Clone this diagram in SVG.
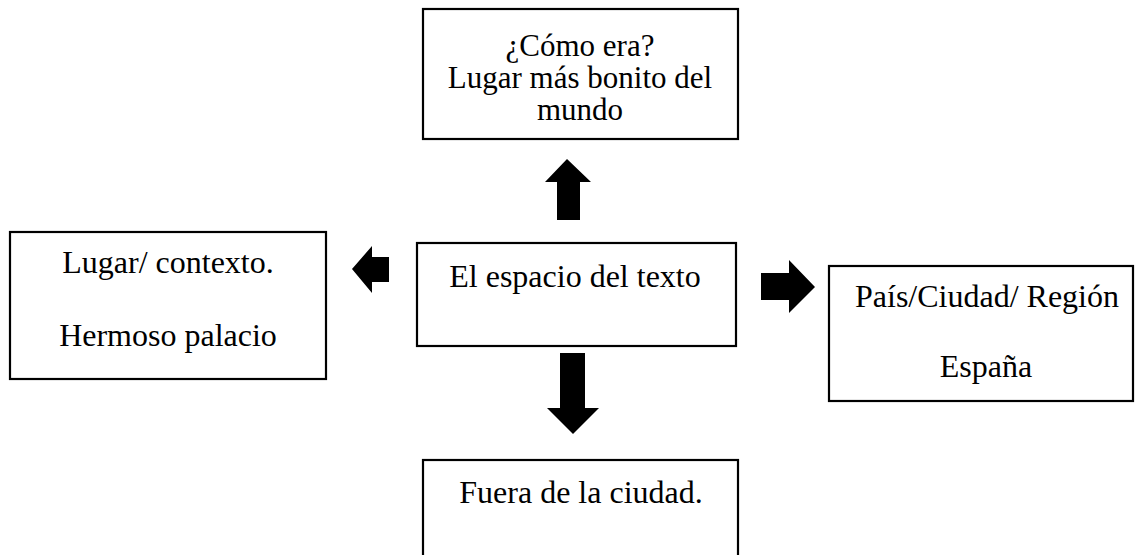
<svg xmlns="http://www.w3.org/2000/svg" width="1138" height="555" viewBox="0 0 1138 555">
<style>
.box{fill:#fff;stroke:#000;stroke-width:2.2}
.t{font-family:'Liberation Serif','Times New Roman',Times,serif;font-size:32px;fill:#000;text-anchor:middle}
.s{font-size:31px}
.arr{fill:#000}
</style>
<rect width="1138" height="555" fill="#fff"/>
<g id="node-top">
<rect class="box" x="423" y="9" width="315" height="130"/>
<text class="t s" x="580" y="56">¿Cómo era?</text>
<text class="t s" x="580" y="88">Lugar más bonito del</text>
<text class="t s" x="580" y="120">mundo</text>
</g>
<g id="node-center">
<rect class="box" x="417" y="243" width="319" height="103"/>
<text class="t" x="575" y="287">El espacio del texto</text>
</g>
<g id="node-left">
<rect class="box" x="10" y="232" width="316" height="147"/>
<text class="t" x="168" y="273">Lugar/ contexto.</text>
<text class="t" x="168" y="346">Hermoso palacio</text>
</g>
<g id="node-right">
<rect class="box" x="829" y="266" width="304" height="135"/>
<text class="t" x="987" y="307">País/Ciudad/ Región</text>
<text class="t" x="986" y="377">España</text>
</g>
<g id="node-bottom">
<rect class="box" x="423" y="460" width="315" height="110"/>
<text class="t" x="581" y="503">Fuera de la ciudad.</text>
</g>
<g id="connectors">
<polygon class="arr" points="557,220 580,220 580,182 591,182 567,159 545,182 557,182"/>
<polygon class="arr" points="389,257 389,282 372,282 372,293 352,269 372,246 372,257"/>
<polygon class="arr" points="761,273 789,273 789,260 815,287 789,313 789,300 761,300"/>
<polygon class="arr" points="560,353 585,353 585,408 599,408 573,434 547,408 560,408"/>
</g>
</svg>
